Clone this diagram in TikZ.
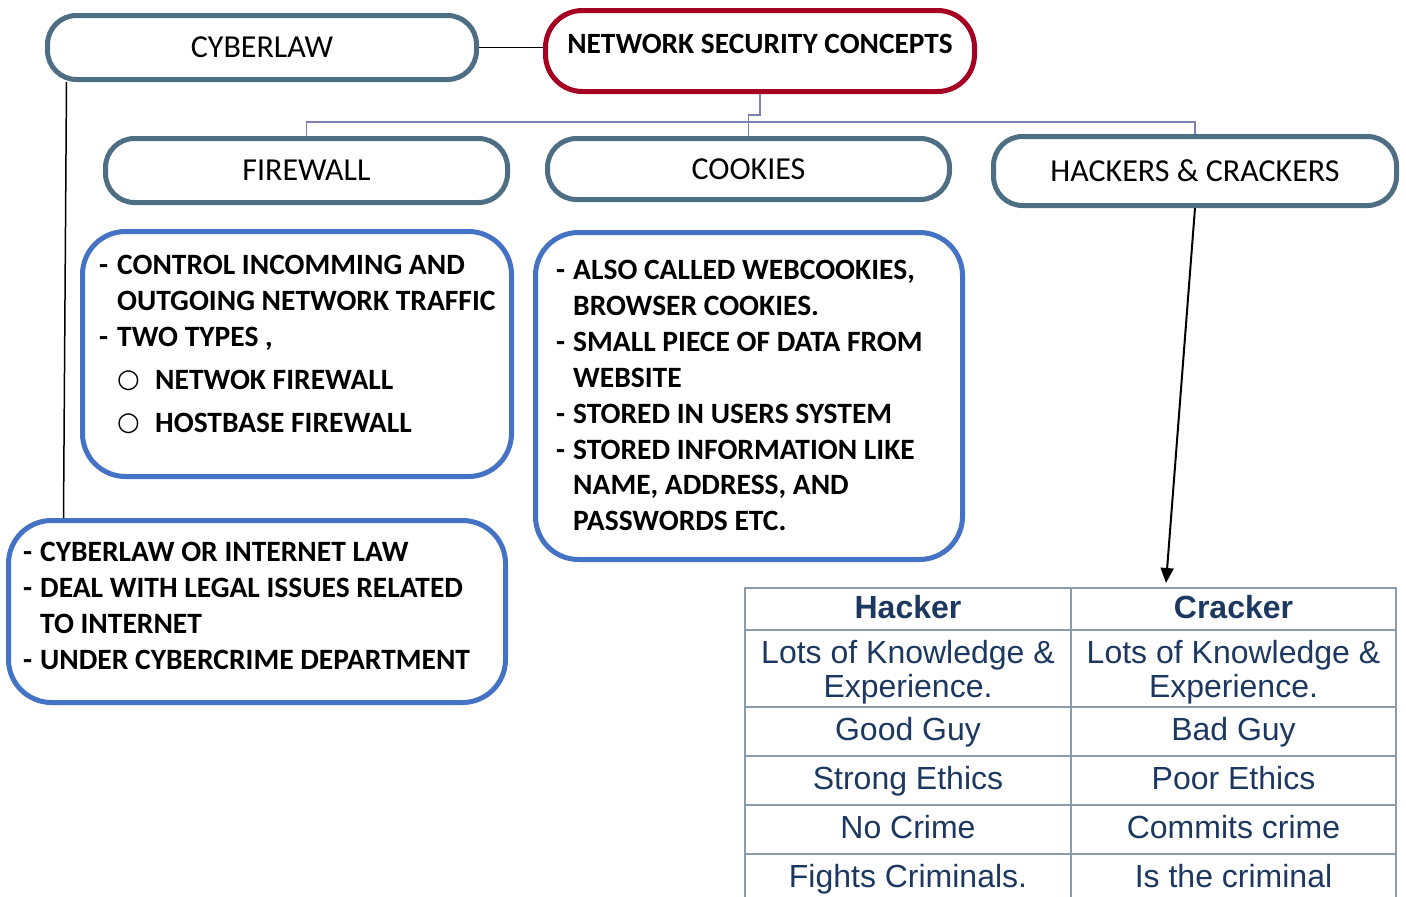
\documentclass[tikz,border=0pt]{standalone}
\usepackage{fontspec}
\setmainfont{Carlito}
\newfontfamily\tablefont{Liberation Sans}
\newfontfamily\symfont{DejaVu Sans}
\usepackage{xcolor}
\usetikzlibrary{arrows.meta, positioning}

\definecolor{slate}{HTML}{4E6E84}
\definecolor{wine}{HTML}{A50021}
\definecolor{boxblue}{HTML}{4472C4}
\definecolor{treeline}{HTML}{7F7FB8}
\definecolor{gridgray}{HTML}{8C9BAA}
\definecolor{navy}{HTML}{1D3860}

\newcommand{\subbullet}{\makebox[38pt][l]{\raisebox{2pt}{\symfont\fontsize{26}{26}\selectfont ○}}}

\begin{document}
\begin{tikzpicture}[x=1pt, y=-1pt,
  title/.style={draw=slate, line width=5pt, rounded corners=29pt, fill=white, inner sep=0pt, font=\fontsize{32}{36}\selectfont},
  main/.style={draw=wine, line width=5pt, rounded corners=37pt, fill=white, inner sep=0pt, font=\bfseries\fontsize{29.4}{34}\selectfont},
  descbox/.style={draw=boxblue, line width=5pt, rounded corners=43pt, fill=white},
  desc/.style={inner sep=0pt, anchor=base west, font=\bfseries\fontsize{29.5}{35.9}\selectfont},
  cell/.style={draw=gridgray, line width=1.5pt, outer sep=0pt, inner sep=0pt, anchor=north west, align=center, text=navy, text height=23pt, text depth=5pt, font=\tablefont\fontsize{32}{34}\selectfont},
  twoline/.style={cell, text height=, text depth=},
  head/.style={cell, font=\tablefont\bfseries\fontsize{32}{34}\selectfont},
  link/.style={black, line width=1.5pt},
  tree/.style={treeline, line width=1.5pt},
  arrow/.style={-{Triangle[length=15pt, width=13pt]}, black, line width=2pt}
]
\useasboundingbox (0,0) rectangle (1406,897);

% title boxes
\node[main, minimum width=429pt, minimum height=81pt, text depth=14pt] (nsc) at (760,51) {NETWORK SECURITY CONCEPTS};
\node[title, minimum width=429pt, minimum height=64pt] (cyberlaw) at (262,47.5) {CYBERLAW};
\node[title, minimum width=402pt, minimum height=64pt] (firewall) at (306.5,170.5) {FIREWALL};
\node[title, minimum width=402pt, minimum height=61pt] (cookies) at (748.5,169) {COOKIES};
\node[title, minimum width=403pt, minimum height=69pt] (hackers) at (1195,171) {HACKERS \& CRACKERS};

% description boxes
\node[descbox, minimum width=429pt, minimum height=245pt] (fwbox) at (297,354) {};
\node[desc] (fwtext) at (99,274.5) {\begin{tabular}[t]{@{}p{18pt}@{}l@{}}
  - & CONTROL INCOMMING AND\\
    & OUTGOING NETWORK TRAFFIC\\
  - & TWO TYPES ,\\[7pt]
    & \subbullet NETWOK FIREWALL\\[7pt]
    & \subbullet HOSTBASE FIREWALL
\end{tabular}};

\node[descbox, minimum width=427pt, minimum height=327pt] (ckbox) at (749,396) {};
\node[desc] (cktext) at (556,279.5) {\begin{tabular}[t]{@{}p{17pt}@{}l@{}}
  - & ALSO CALLED WEBCOOKIES,\\
    & BROWSER COOKIES.\\
  - & SMALL PIECE OF DATA FROM\\
    & WEBSITE\\
  - & STORED IN USERS SYSTEM\\
  - & STORED INFORMATION LIKE\\
    & NAME, ADDRESS, AND\\
    & PASSWORDS ETC.
\end{tabular}};

\node[descbox, minimum width=497pt, minimum height=182pt] (lawbox) at (257,611.5) {};
\node[desc] (lawtext) at (23,561.5) {\begin{tabular}[t]{@{}p{17pt}@{}l@{}}
  - & CYBERLAW OR INTERNET LAW\\
  - & DEAL WITH LEGAL ISSUES RELATED\\
    & TO INTERNET\\
  - & UNDER CYBERCRIME DEPARTMENT
\end{tabular}};

% hacker / cracker table
\node[head, minimum width=326pt, minimum height=42pt] (hacker) at (745,588) {Hacker};
\node[head, minimum width=325pt, minimum height=42pt] (cracker) at (1071,588) {Cracker};
\node[twoline, minimum width=326pt, minimum height=77pt, below=0pt of hacker] (hk1) {\rule{0pt}{31pt}Lots of Knowledge \&\\Experience.};
\node[twoline, minimum width=325pt, minimum height=77pt, below=0pt of cracker] (ck1) {\rule{0pt}{31pt}Lots of Knowledge \&\\Experience.};
\node[cell, minimum width=326pt, minimum height=49pt, below=0pt of hk1] (hk2) {Good Guy};
\node[cell, minimum width=325pt, minimum height=49pt, below=0pt of ck1] (ck2) {Bad Guy};
\node[cell, minimum width=326pt, minimum height=49pt, below=0pt of hk2] (hk3) {Strong Ethics};
\node[cell, minimum width=325pt, minimum height=49pt, below=0pt of ck2] (ck3) {Poor Ethics};
\node[cell, minimum width=326pt, minimum height=49pt, below=0pt of hk3] (hk4) {No Crime};
\node[cell, minimum width=325pt, minimum height=49pt, below=0pt of ck3] (ck4) {Commits crime};
\node[cell, minimum width=326pt, minimum height=49pt, below=0pt of hk4] (hk5) {Fights Criminals.};
\node[cell, minimum width=325pt, minimum height=49pt, below=0pt of ck4] (ck5) {Is the criminal};

% connectors
\coordinate (bus) at (0,122);
\draw[link] (cyberlaw.east) -- (cyberlaw.east -| nsc.west);
\draw[link] ([xshift=21.5pt]cyberlaw.south west) -- ([xshift=57.5pt]lawbox.north west);
\draw[tree] (nsc.south) -- ++(0,21) -| (cookies.north);
\draw[tree] (firewall.north) |- (bus -| hackers.north) -- (hackers.north);
\draw[arrow] (hackers.south) -- ([xshift=95pt,yshift=5pt]cracker.north west);

\end{tikzpicture}
\end{document}
